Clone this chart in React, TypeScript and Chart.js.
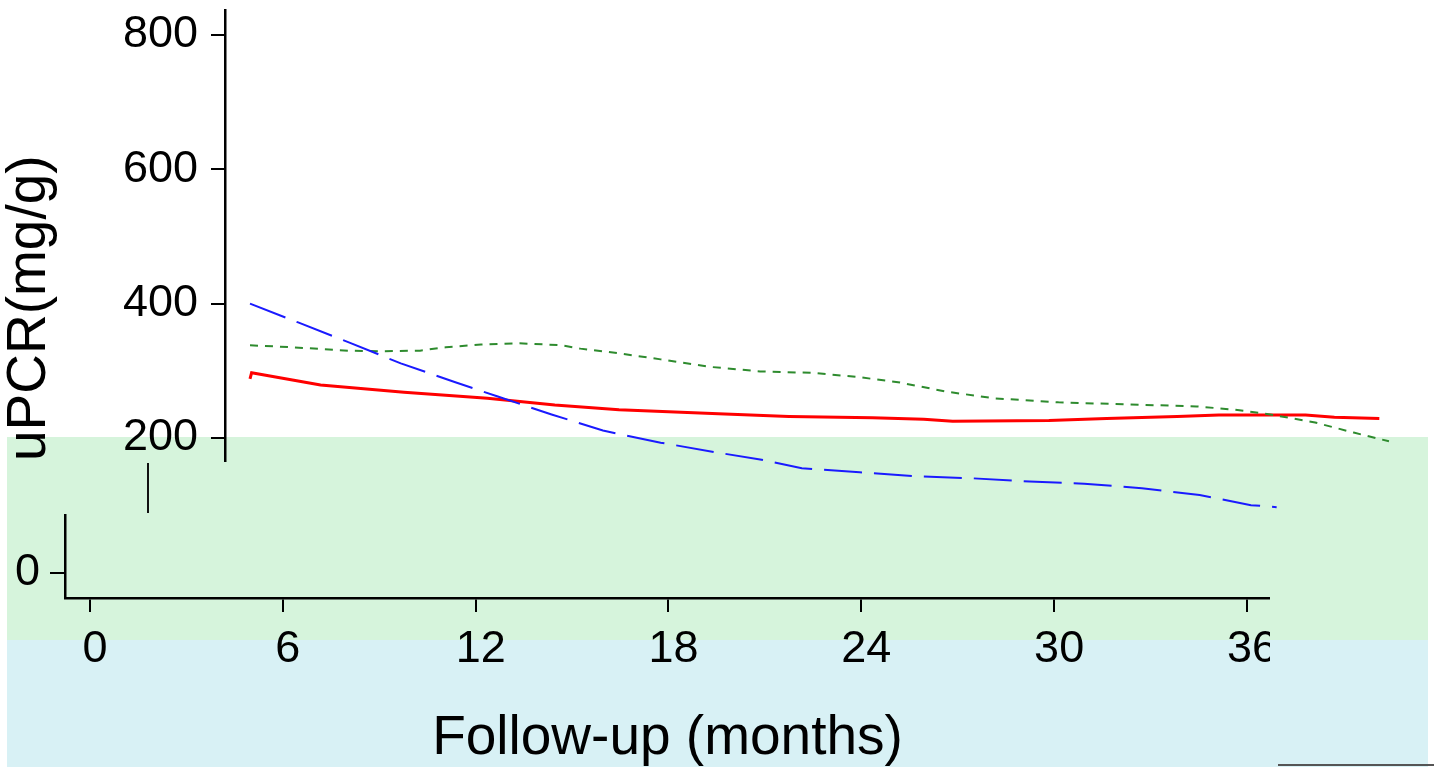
import React, { useEffect, useRef } from "react";
import { Chart, registerables } from "chart.js";

Chart.register(...registerables);

// ---- data ----
const xTickLabels = [0, 6, 12, 18, 24, 30, 36];
const yTickLabels = [200, 400, 600, 800];
const lowerYTickLabels = [0];

const redMonths = [0, 0.05, 2.2, 4.8, 7.4, 9.5, 11.5, 14.6, 16.8, 19.4, 21.0, 21.9, 24.9, 26.7, 28.9, 30.2, 32.9, 33.8, 35.2];
const redValues = [288, 297, 279, 268, 259, 249, 242, 236, 232, 230, 228, 225, 226, 229, 232, 234, 234, 231, 229];

const blueMonths = [0, 1.5, 3.1, 4.7, 6.4, 7.7, 9.4, 11.0, 12.8, 14.6, 15.9, 17.2, 19.0, 20.7, 22.5, 24.3, 26.0, 27.8, 29.6, 31.2, 32.0];
const blueValues = [400, 372, 342, 311, 283, 262, 235, 211, 193, 178, 168, 155, 149, 143, 140, 135, 132, 125, 115, 100, 97];

const greenMonths = [0, 1.3, 3.05, 4.0, 5.3, 6.1, 7.2, 8.4, 9.7, 10.3, 11.5, 12.8, 14.3, 15.9, 17.5, 18.9, 20.2, 21.7, 23.2, 25.2, 27.3, 29.5, 30.7, 31.8, 33.2, 34.4, 35.5];
const greenValues = [338, 335, 330, 329, 330, 335, 339, 341, 338, 333, 326, 317, 306, 299, 297, 291, 283, 269, 259, 253, 250, 247, 242, 235, 223, 208, 195];

const yTitle = "uPCR(mg/g)";
const xTitle = "Follow-up (months)";

const FONT = "'Liberation Sans', Arial, Helvetica, sans-serif";

const toPoints = (xs: number[], ys: number[]) => xs.map((x, i) => ({ x, y: ys[i] }));

const bandsPlugin = {
  id: "bands",
  beforeDraw(chart: any) {
    const { ctx, width, height } = chart;
    ctx.save();
    ctx.fillStyle = "#ffffff";
    ctx.fillRect(0, 0, width, height);
    ctx.fillStyle = "#d6f4dc";
    ctx.fillRect(7, 437, 1421, 203);
    ctx.fillStyle = "#d8f1f5";
    ctx.fillRect(7, 640, 1421, 127);
    // small artefacts of the reference
    ctx.fillStyle = "#111";
    ctx.fillRect(147, 463, 2, 50);
    ctx.fillStyle = "#555";
    ctx.fillRect(1278, 764, 156, 2);
    ctx.restore();
  },
};

export default function App() {
  const topRef = useRef<HTMLCanvasElement | null>(null);
  const bottomRef = useRef<HTMLCanvasElement | null>(null);

  useEffect(() => {
    if (!topRef.current || !bottomRef.current) return;

    const top = new Chart(topRef.current, {
      type: "line",
      data: {
        datasets: [
          {
            data: toPoints(blueMonths, blueValues),
            borderColor: "#1a1aff",
            borderWidth: 2,
            borderDash: [38, 12],
            pointRadius: 0,
            tension: 0,
            fill: false,
            clip: false,
          } as any,
          {
            data: toPoints(greenMonths, greenValues),
            borderColor: "#2e8b2e",
            borderWidth: 2,
            borderDash: [8, 7],
            pointRadius: 0,
            tension: 0,
            fill: false,
            clip: false,
          } as any,
          {
            data: toPoints(redMonths, redValues),
            borderColor: "#ff0000",
            borderWidth: 3,
            pointRadius: 0,
            tension: 0,
            fill: false,
            clip: false,
          } as any,
        ],
      },
      options: {
        responsive: false,
        animation: false,
        events: [],
        layout: { padding: { left: 0, top: 10, right: 0, bottom: 306 } },
        plugins: { legend: { display: false }, tooltip: { enabled: false } },
        scales: {
          x: {
            type: "linear",
            display: false,
            min: -25 / 32.083,
            max: (1434 - 250) / 32.083,
          },
          y: {
            type: "linear",
            min: 165.7,
            max: 837.1,
            afterBuildTicks: (s: any) => {
              s.ticks = yTickLabels.map((v) => ({ value: v }));
            },
            afterFit: (s: any) => {
              s.width = 225;
              s.paddingTop = 0;
              s.paddingBottom = 0;
            },
            ticks: { font: { family: FONT, size: 45 }, color: "#000", padding: 13 },
            grid: { display: true, drawOnChartArea: false, drawTicks: true, tickLength: 14, color: "#000", lineWidth: 2 },
            border: { display: true, color: "#000", width: 2.5 },
            title: {
              display: true,
              text: yTitle,
              align: "start",
              color: "#000",
              font: { family: FONT, size: 55, lineHeight: 1 },
              padding: { top: 2, bottom: 0 },
            },
          },
        },
      } as any,
      plugins: [bandsPlugin],
    });

    const bottom = new Chart(bottomRef.current, {
      type: "line",
      data: { datasets: [] },
      options: {
        responsive: false,
        animation: false,
        events: [],
        layout: { padding: { left: 0, top: 515, right: 0, bottom: 0 } },
        plugins: { legend: { display: false }, tooltip: { enabled: false } },
        scales: {
          x: {
            type: "linear",
            min: -25 / 32.083,
            max: (1268 - 90) / 32.083,
            afterBuildTicks: (s: any) => {
              s.ticks = xTickLabels.map((v) => ({ value: v }));
            },
            afterFit: (s: any) => {
              s.height = 169;
              s.paddingLeft = 0;
              s.paddingRight = 0;
            },
            ticks: { font: { family: FONT, size: 45 }, color: "#000", padding: 11, labelOffset: 5, maxRotation: 0, autoSkip: false },
            grid: { display: true, drawOnChartArea: false, drawTicks: true, tickLength: 14, color: "#000", lineWidth: 2 },
            border: { display: true, color: "#000", width: 2.5 },
            title: {
              display: true,
              text: xTitle,
              color: "#000",
              font: { family: FONT, size: 55, lineHeight: 1 },
              padding: { top: 0, bottom: 1 },
            },
          },
          y: {
            type: "linear",
            min: -37.2,
            max: 86.3,
            afterBuildTicks: (s: any) => {
              s.ticks = lowerYTickLabels.map((v) => ({ value: v }));
            },
            afterFit: (s: any) => {
              s.width = 65;
              s.paddingTop = 0;
              s.paddingBottom = 0;
            },
            ticks: { font: { family: FONT, size: 45 }, color: "#000", padding: 10 },
            grid: { display: true, drawOnChartArea: false, drawTicks: true, tickLength: 15, color: "#000", lineWidth: 2 },
            border: { display: true, color: "#000", width: 2.5 },
          },
        },
      } as any,
    });

    return () => {
      top.destroy();
      bottom.destroy();
    };
  }, []);

  return (
    <div style={{ position: "fixed", left: 0, top: 0, width: 1434, height: 767, background: "#fff", overflow: "hidden" }}>
      <canvas ref={topRef} width={1434} height={767} style={{ position: "absolute", left: 0, top: 0, width: 1434, height: 767 }} />
      <canvas ref={bottomRef} width={1270} height={767} style={{ position: "absolute", left: 0, top: 0, width: 1270, height: 767 }} />
    </div>
  );
}
